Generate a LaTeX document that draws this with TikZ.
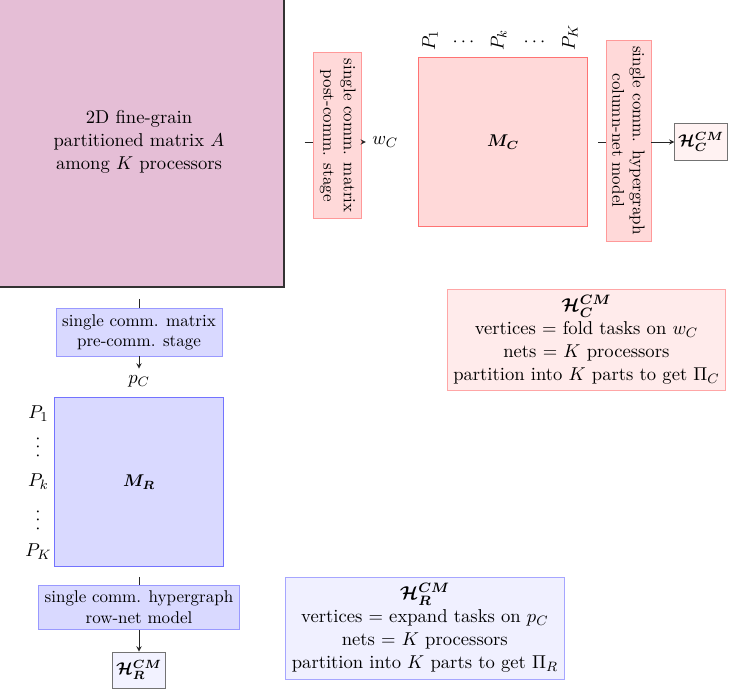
\documentclass[tikz,border=0pt,11pt]{standalone}
\usepackage{amsmath}
\usetikzlibrary{positioning}

\definecolor{matApink}{RGB}{229,190,214}

\begin{document}
\begin{tikzpicture}[
        >=stealth,
        mat/.style={draw, rectangle, minimum size=3.5cm, semithick, font=\small},
        stage/.style={draw, rectangle, align=center, font=\small},
        hgraph/.style={draw=black!55, rectangle, font=\small, inner xsep=2pt, inner ysep=5pt},
        info/.style={draw, rectangle, align=center},
        plabel/.style={inner sep=0pt},
        conn/.style={->, black!85},
        stub/.style={black!85}
    ]
        \useasboundingbox (-2.874,2.936) rectangle (12.24,-11.39);

        % The partitioned matrix A
        \node (A) [draw=black!80, thick, rectangle, minimum size=6cm, fill=matApink, align=center] at (0,0)
            {2D fine-grain\\partitioned matrix $A$\\among $K$ processors};

        % Column side: post-comm. stage
        \node (post) [stage, rotate=-90, fill=red!15, draw=red!40] at (4.11,0.13)
            {single comm. matrix\\post-comm. stage};
        \node (wC) at (5.09,0) {$w_C$};
        \node (MC) [mat, fill=red!15, draw=red!55] at (7.53,0) {$\boldsymbol{M_C}$};
        \node (colnet) [stage, rotate=-90, fill=red!15, draw=red!40] at (10.12,0.03)
            {single comm. hypergraph\\column-net model};
        \node (HC) [hgraph, fill=red!5] at (11.62,0) {$\boldsymbol{\mathcal{H}_C^{CM}}$};

        % Processor labels over M_C
        \node (mcP1) [plabel, rotate=90, anchor=west] at ([xshift=0.25cm, yshift=0.12cm]MC.north west) {$P_1$};
        \node (mcdotsA) [plabel] at ([xshift=0.97cm, yshift=0.29cm]MC.north west) {$\cdots$};
        \node (mcPk) [plabel, rotate=90, anchor=west] at ([xshift=1.67cm, yshift=0.12cm]MC.north west) {$P_k$};
        \node (mcdotsB) [plabel] at ([xshift=2.44cm, yshift=0.29cm]MC.north west) {$\cdots$};
        \node (mcPK) [plabel, rotate=90, anchor=west] at ([xshift=3.14cm, yshift=0.12cm]MC.north west) {$P_K$};

        \draw[stub, shorten <=0.41cm] (A.east) -- (A.east -| post.south);
        \draw[conn] (post.north |- wC) -- (wC);
        \draw[stub, shorten <=0.2cm] (MC.east) -- (MC.east -| colnet.south);
        \draw[conn] (colnet.north |- HC) -- (HC);

        \node (HCinfo) [info, fill=red!8, draw=red!35] at (9.25,-4.09) {
            $\boldsymbol{\mathcal{H}_C^{CM}}$\\
            vertices $=$ fold tasks on $w_C$\\
            nets $=$ $K$ processors\\
            partition into $K$ parts to get $\Pi_C$
        };

        % Row side: pre-comm. stage
        \node (pre) [stage, fill=blue!15, draw=blue!40] at (0,-3.93)
            {single comm. matrix\\pre-comm. stage};
        \node (pC) at (0,-4.94) {$p_C$};
        \node (MR) [mat, fill=blue!15, draw=blue!55] at (0,-7.03) {$\boldsymbol{M_R}$};
        \node (rownet) [stage, fill=blue!15, draw=blue!40] at (0,-9.62)
            {single comm. hypergraph\\row-net model};
        \node (HR) [hgraph, fill=blue!5] at (0,-10.92) {$\boldsymbol{\mathcal{H}_R^{CM}}$};

        % Processor labels left of M_R
        \node (mrP1) [plabel] at ([xshift=-0.32cm, yshift=-0.35cm]MR.north west) {$P_1$};
        \node (mrdotsA) [plabel, rotate=90] at ([xshift=-0.32cm, yshift=-1.01cm]MR.north west) {$\cdots$};
        \node (mrPk) [plabel] at ([xshift=-0.32cm, yshift=-1.76cm]MR.north west) {$P_k$};
        \node (mrdotsB) [plabel, rotate=90] at ([xshift=-0.32cm, yshift=-2.52cm]MR.north west) {$\cdots$};
        \node (mrPK) [plabel] at ([xshift=-0.32cm, yshift=-3.2cm]MR.north west) {$P_K$};

        \draw[stub, shorten <=0.23cm] (A.south) -- (pre.north);
        \draw[conn] (pre) -- (pC);
        \draw[stub, shorten <=0.2cm] (MR) -- (rownet);
        \draw[conn] (rownet) -- (HR);

        \node (HRinfo) [info, fill=blue!6, draw=blue!35] at (5.91,-10.05) {
            $\boldsymbol{\mathcal{H}_R^{CM}}$\\
            vertices $=$ expand tasks on $p_C$\\
            nets $=$ $K$ processors\\
            partition into $K$ parts to get $\Pi_R$
        };
    \end{tikzpicture}
\end{document}
